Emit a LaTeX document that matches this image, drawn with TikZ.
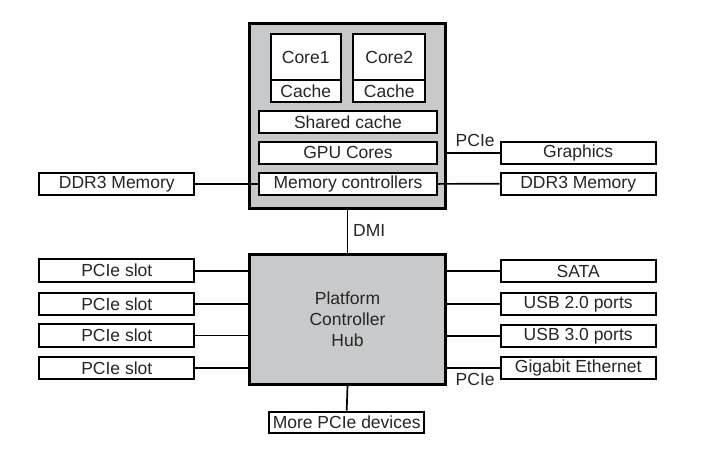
\documentclass[tikz,border=0pt]{standalone}
\usepackage{fontspec}
\setmainfont{Liberation Sans}
\definecolor{chipgray}{RGB}{200,201,203}
\begin{document}
\begin{tikzpicture}[x=1pt,y=-1pt,
  font=\fontsize{17.5}{21}\selectfont,
  chip/.style={draw=black,line width=3pt,fill=chipgray,inner sep=0pt,align=center,text=black!85},
  box/.style={draw=black,line width=2pt,fill=white,inner sep=0pt,text=black!85},
  conn/.style={draw=black,line width=1.7pt},
  lbl/.style={inner sep=0pt,anchor=base west,text=black!85}]
\useasboundingbox (0,0) rectangle (717,459);
% CPU package
\node[chip,minimum width=196pt,minimum height=185pt] (cpu) at (347,116) {};
\node[box,minimum width=70pt,minimum height=46.3pt] (core1) at (305.7,57.2) {Core1};
\node[box,minimum width=70pt,minimum height=21.7pt] (cache1) at (305.7,91.2) {Cache};
\node[box,minimum width=71.7pt,minimum height=46.3pt] (core2) at (389.2,57.2) {Core2};
\node[box,minimum width=71.7pt,minimum height=21.7pt] (cache2) at (389.2,91.2) {Cache};
\node[box,minimum width=177.4pt,minimum height=22.3pt] (shared) at (348,122.2) {Shared cache};
\node[box,minimum width=177.4pt,minimum height=22.3pt] (gpu) at (348,152.9) {GPU Cores};
\node[box,minimum width=177.4pt,minimum height=22.3pt] (mc) at (348,183.9) {Memory controllers};
% left / right of CPU
\node[box,minimum width=155pt,minimum height=22.3pt] (ddrl) at (116.8,183.9) {DDR3 Memory};
\node[box,minimum width=155pt,minimum height=22.3pt] (gfx) at (578.2,152.9) {Graphics};
\node[box,minimum width=155pt,minimum height=22.3pt] (ddrr) at (578.2,183.7) {DDR3 Memory};
% PCH
\node[chip,minimum width=195.5pt,minimum height=130pt] (pch) at (347.5,319) {Platform\\Controller\\Hub};
\node[box,minimum width=155pt,minimum height=22.5pt] (slot1) at (116.8,270.7) {PCIe slot};
\node[box,minimum width=155pt,minimum height=22.5pt] (slot2) at (116.8,303.9) {PCIe slot};
\node[box,minimum width=155pt,minimum height=22.5pt] (slot3) at (116.8,335.5) {PCIe slot};
\node[box,minimum width=155pt,minimum height=22.5pt] (slot4) at (116.8,368) {PCIe slot};
\node[box,minimum width=155pt,minimum height=22.5pt] (sata) at (578.2,271.1) {SATA};
\node[box,minimum width=155pt,minimum height=22.5pt] (usb2) at (578.2,303.9) {USB 2.0 ports};
\node[box,minimum width=155pt,minimum height=22.5pt] (usb3) at (578.2,336) {USB 3.0 ports};
\node[box,minimum width=155pt,minimum height=22.5pt] (gbe) at (578.2,367.9) {Gigabit Ethernet};
\node[box,minimum width=154.7pt,minimum height=21.6pt] (more) at (346.7,422.5) {More PCIe devices};
% connectors
\draw[conn] (ddrl.east) -- (mc.west);
\draw[conn] (mc.east) -- (ddrr.west);
\draw[conn] (gfx.west -| cpu.east) -- (gfx.west);
\draw[conn] (cpu.south -| 347.5,0) coordinate (dmitop) -- (pch.north);
\foreach \s in {slot1,slot2,slot3,slot4}{\draw[conn] (\s.east) -- (\s.east -| pch.west);}
\foreach \s in {sata,usb2,usb3,gbe}{\draw[conn] (\s.west -| pch.east) -- (\s.west);}
\draw[conn] (pch.south) -- (more.north);
% labels
\node[lbl] (pcie1) at (455.5,146) {PCIe};
\node[lbl] (dmi) at (353,236.5) {DMI};
\node[lbl] (pcie2) at (455.5,385.5) {PCIe};
\end{tikzpicture}
\end{document}
